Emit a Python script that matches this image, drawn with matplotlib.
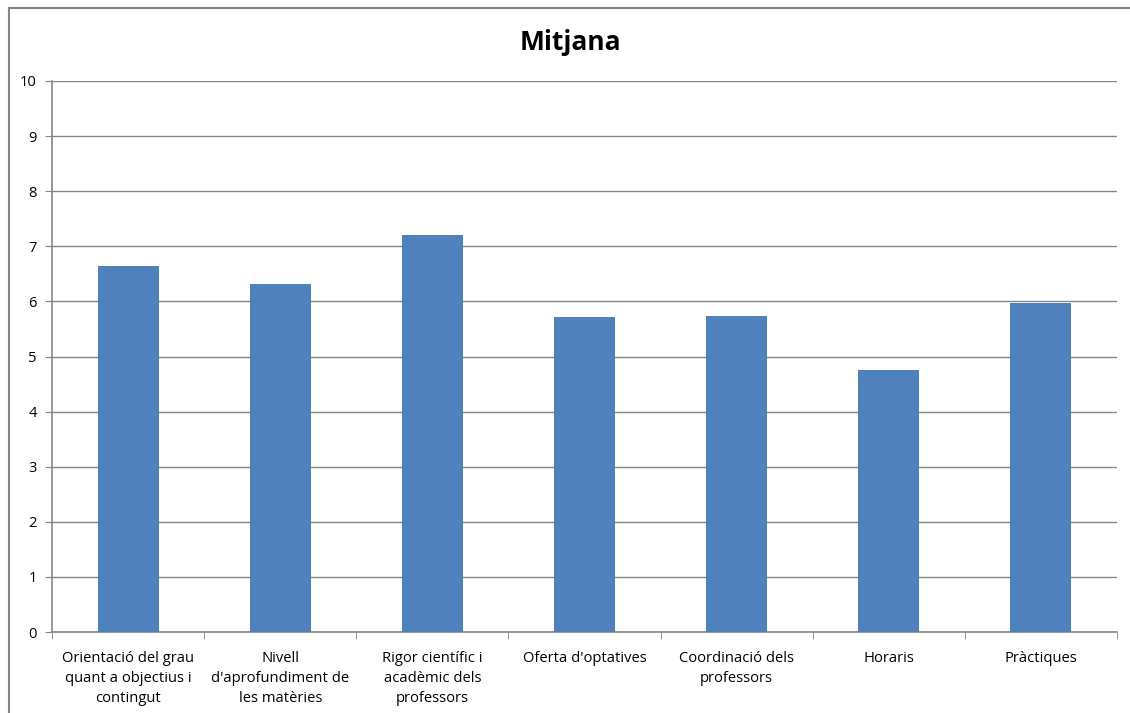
import matplotlib
matplotlib.use('Agg')
import matplotlib.pyplot as plt
from matplotlib.lines import Line2D
import numpy as np

# dades
categories = ["Orientació del grau\nquant a objectius i\ncontingut",
              "Nivell\nd'aprofundiment de\nles matèries",
              "Rigor científic i\nacadèmic dels\nprofessors",
              "Oferta d'optatives",
              "Coordinació dels\nprofessors",
              "Horaris",
              "Pràctiques"]
mitjana = [6.64, 6.31, 7.21, 5.72, 5.74, 4.75, 5.98]

plt.rcParams['font.family'] = ['Open Sans', 'DejaVu Sans']

fig = plt.figure(figsize=(11.3, 7.13), dpi=100)
ax = fig.add_axes([52/1130, 81/713, (1117-52)/1130, (632-81)/713])

x = np.arange(len(categories))
ax.bar(x, mitjana, width=0.4, color='#4F81BD', zorder=3)

ax.set_xlim(-0.5, len(categories) - 0.5)
ax.set_ylim(0, 10)
ax.set_yticks(range(0, 11))
ax.yaxis.grid(True, color='#868686', linewidth=1)
ax.set_axisbelow(True)

ax.set_xticks(x)
ax.set_xticklabels(categories, fontsize=10.6, linespacing=1.45)
ax.set_xticks(np.arange(-0.5, len(categories)), minor=True)
ax.tick_params(axis='x', which='major', length=0, pad=14)
ax.tick_params(axis='x', which='minor', length=5, color='#868686')
ax.tick_params(axis='y', length=5, color='#868686', labelsize=10.6, pad=6)

for s in ['top', 'right']:
    ax.spines[s].set_visible(False)
for s in ['left', 'bottom']:
    ax.spines[s].set_color('#868686')
    ax.spines[s].set_linewidth(1.2)

fig.text(570/1130, 1 - 43/713, 'Mitjana', ha='center', va='center',
         fontsize=19, fontweight='bold')

# vora del gràfic
fig.add_artist(Line2D([8.5/1130, 8.5/1130], [0, 1 - 7.5/713], color='#868686', lw=1.5))
fig.add_artist(Line2D([8.5/1130, 1], [1 - 7.5/713, 1 - 7.5/713], color='#868686', lw=1.5))

fig.savefig('out.png', dpi=100)
